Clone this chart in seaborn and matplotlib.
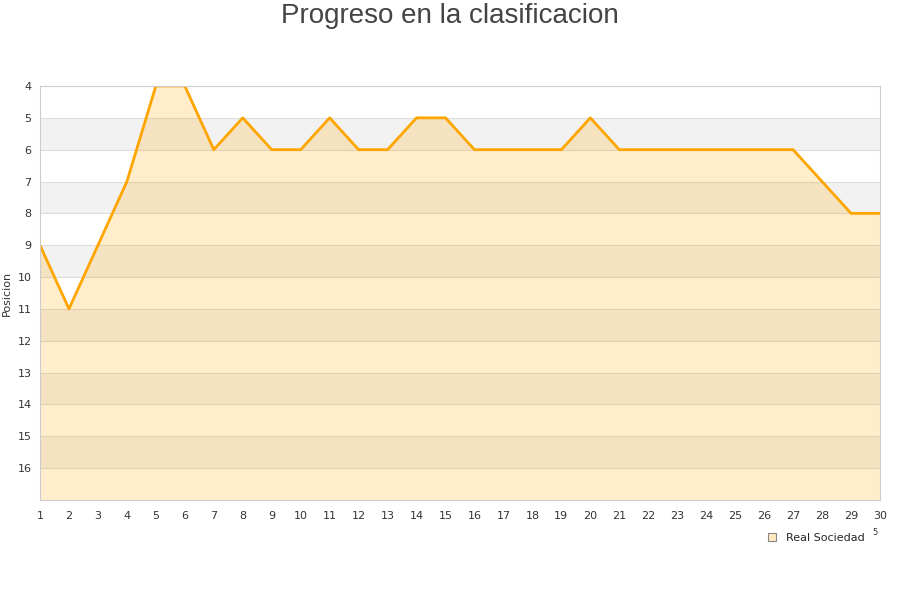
import matplotlib
matplotlib.use("Agg")
import matplotlib.pyplot as plt
import seaborn as sns
import pandas as pd
from matplotlib.patches import Patch

jornadas = list(range(1, 31))
posiciones = [9, 11, 9, 7, 4, 4, 6, 5, 6, 6, 5, 6, 6, 5, 5, 6, 6, 6, 6, 5,
              6, 6, 6, 6, 6, 6, 6, 7, 8, 8]
y_ticks = list(range(4, 17))
equipo = "Real Sociedad"
titulo = "Progreso en la clasificacion"

df = pd.DataFrame({"Jornada": jornadas, "Posicion": posiciones})

sns.set_style("white")
plt.rcParams['font.family'] = ['DejaVu Sans']

fig = plt.figure(figsize=(9, 6), dpi=100)
ax = fig.add_axes([40/900, 1-500/600, 840/900, 414/600])

# alternating bands
for k in range(5, 17, 2):
    ax.axhspan(k, k+1, color="#f2f2f2", zorder=0, lw=0)
for k in range(5, 17):
    ax.axhline(k, color="#dddddd", lw=0.8, zorder=0.5)

ax.fill_between(df["Jornada"], df["Posicion"], 17, color="#FFA500", alpha=0.2, lw=0, zorder=1)
sns.lineplot(data=df, x="Jornada", y="Posicion", ax=ax, color="#FFA500", lw=2.0, zorder=3)

ax.set_xlim(1, 30)
ax.set_ylim(17, 4)
ax.set_xticks(jornadas)
ax.set_yticks(y_ticks)
ax.tick_params(axis="both", length=0, labelsize=8, colors="#333333", pad=6)
ax.tick_params(axis="x", pad=8)
ax.set_xlabel("")
ax.set_ylabel("Posicion", fontsize=8, color="#333333", labelpad=10)
ax.yaxis.set_label_coords(-0.034, 0.5)
for s in ax.spines.values():
    s.set_color("#cccccc")
    s.set_linewidth(0.8)
    s.set_zorder(4)

fig.text(0.5, 1-16/600, titulo, ha="center", va="center", fontsize=20,
         color="#444444", family=["Liberation Sans", "DejaVu Sans"])

handles = [Patch(facecolor="#ffe9c0", edgecolor="#888888", lw=0.8, label=equipo)]
fig.legend(handles=handles, loc="center right", bbox_to_anchor=(0.972, 0.103),
           frameon=False, fontsize=8, handlelength=0.7, handleheight=0.7,
           handletextpad=0.9)
fig.text(0.972, 0.113, "5", fontsize=6, color="#333333", ha="center", va="center")

fig.savefig("out.png", dpi=100)
